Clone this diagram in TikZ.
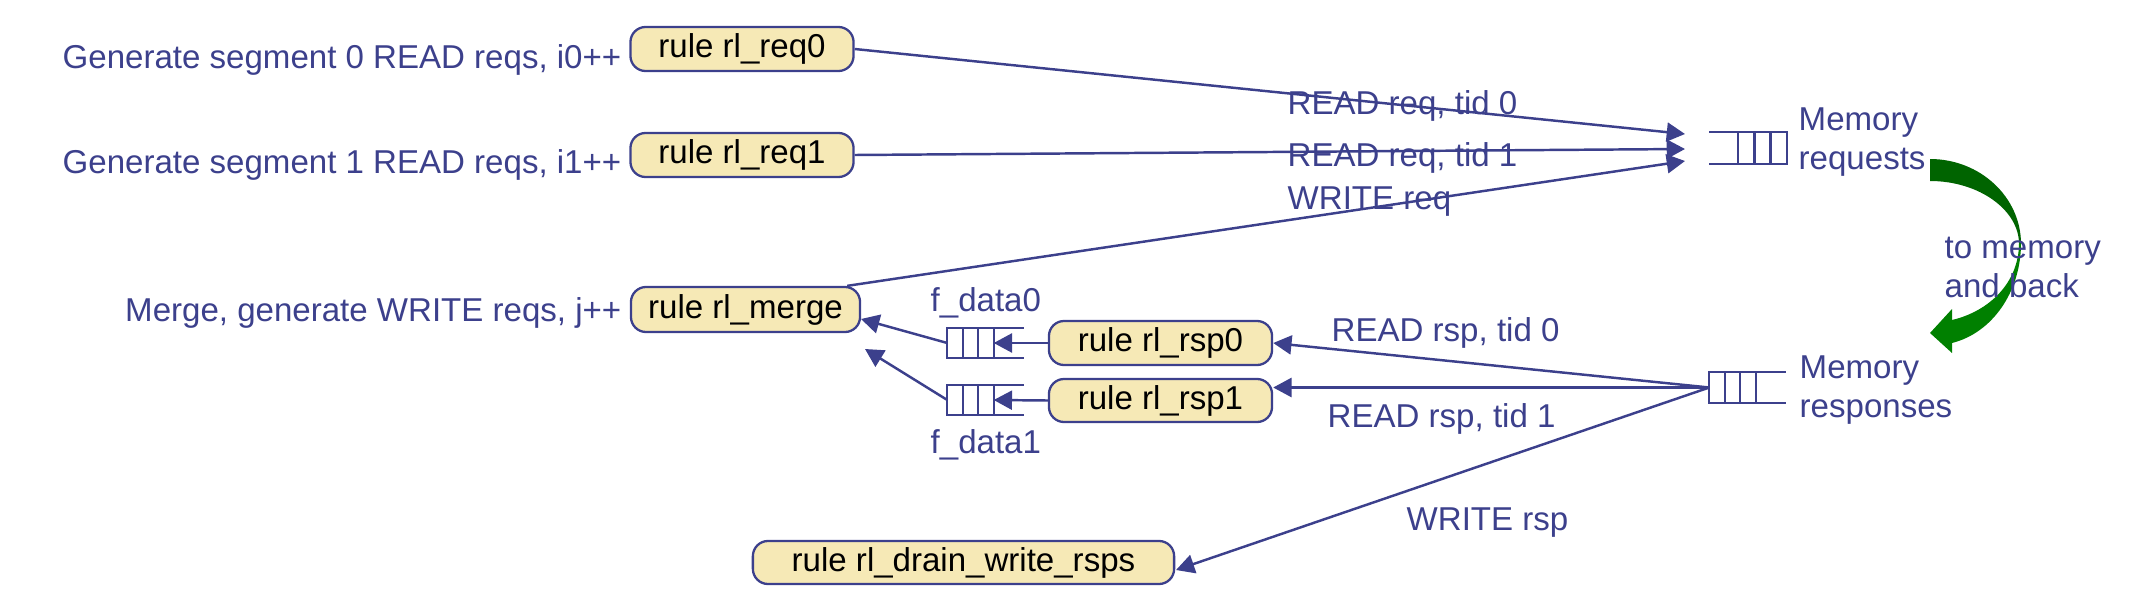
\documentclass[tikz,border=0pt]{standalone}
\usepackage{fontspec}
\setmainfont{Liberation Sans}
\usetikzlibrary{arrows.meta,calc}

\definecolor{linkblue}{RGB}{60,64,140}
\definecolor{rulefill}{RGB}{246,233,182}
\definecolor{darkgreen}{RGB}{0,100,0}
\definecolor{midgreen}{RGB}{0,128,0}
\newcommand{\labelfont}{\fontsize{9.4pt}{11.1pt}\selectfont}

\tikzset{
  rulebox/.style={draw=linkblue, fill=rulefill, line width=0.65pt, rounded corners=4.3pt,
    minimum width=2.23cm, minimum height=0.44cm, inner sep=0pt, text=black, font=\labelfont},
  note/.style={text=linkblue, font=\labelfont, inner sep=0pt},
  fifo/.style={minimum width=0.45cm, minimum height=0.29cm, inner sep=0pt},
  qline/.style={draw=linkblue, line width=0.65pt},
  link/.style={draw=linkblue, line width=0.7pt, -{Triangle[length=5.2pt,width=5.4pt]}},
}

\newcommand{\fifocells}[1]{%
  \draw[qline] (#1.north west) rectangle (#1.south east);
  \foreach \f in {0.333,0.667}
    \draw[qline] ($(#1.north west)!\f!(#1.north east)$) -- ($(#1.south west)!\f!(#1.south east)$);
}

\begin{document}
\begin{tikzpicture}[x=0.01cm,y=-0.01cm]
\useasboundingbox (0,0) rectangle (2136,606);

% Drawing rules
\node[rulebox] (req0) at (742,49) {rule rl\_req0};
\node[rulebox] (req1) at (742,155) {rule rl\_req1};
\node[rulebox, minimum width=2.29cm, minimum height=0.45cm] (merge) at (745.5,309.5) {rule rl\_merge};
\node[rulebox] (rsp0) at (1160.5,343) {rule rl\_rsp0};
\node[rulebox, minimum height=0.43cm] (rsp1) at (1160.5,400.5) {rule rl\_rsp1};
\node[rulebox, minimum width=4.21cm, minimum height=0.43cm] (drain) at (963.5,562.5) {rule rl\_drain\_write\_rsps};

% Marking rule comments
\node[note, anchor=base east] (genzero) at (622,68) {Generate segment 0 READ reqs, i0++};
\node[note, anchor=base east] (genone) at (622,173) {Generate segment 1 READ reqs, i1++};
\node[note, anchor=base east] (genwrite) at (622,321) {Merge, generate WRITE reqs, j++};

% Drawing FIFOs
\node[fifo, minimum width=0.47cm, minimum height=0.30cm] (memreq) at (1762.5,148) {};
\fifocells{memreq}
\draw[qline] (memreq.north west) -- ++(-29,0);
\draw[qline] (memreq.south west) -- ++(-29,0);

\node[fifo] (memrsp) at (1732.5,387.5) {};
\fifocells{memrsp}
\draw[qline] (memrsp.north east) -- ++(30,0);
\draw[qline] (memrsp.south east) -- ++(30,0);

\node[fifo, minimum height=0.28cm] (fdata0) at (970.5,343) {};
\fifocells{fdata0}
\draw[qline] (fdata0.north east) -- ++(30,0);
\draw[qline] (fdata0.south east) -- ++(30,0);

\node[fifo, minimum height=0.28cm] (fdata1) at (970.5,400) {};
\fifocells{fdata1}
\draw[qline] (fdata1.north east) -- ++(30,0);
\draw[qline] (fdata1.south east) -- ++(30,0);

% Marking FIFO names
\node[note, anchor=west, align=left] (memreqlabel) at (1798,142) {Memory\\requests};
\node[note, anchor=west, align=left] (memrsplabel) at (1799,390) {Memory\\responses};
\node[note, anchor=base west] (fdatazero) at (930,311) {f\_data0};
\node[note, anchor=base west] (fdataone) at (930,453) {f\_data1};

% Drawing requests
\coordinate (reqin0) at (1685,134);
\coordinate (reqin1) at (1685,149);
\coordinate (reqin2) at (1685,161);
\coordinate (mergeout) at ($(merge.north east)+(-14,0)$);
\draw[link] (req0.east) -- (reqin0);
\draw[link] (req1.east) -- (reqin1);
\draw[link] (mergeout) -- (reqin2);
\node[note, anchor=base west] (rdreqzero) at (1287,114) {READ req, tid 0};
\node[note, anchor=base west] (rdreqone) at (1287,166) {READ req, tid 1};
\node[note, anchor=base west] (wrreq) at (1287,209) {WRITE req};

% Drawing responses
\coordinate (drainin) at (1176,570);
\draw[link] (memrsp.west) -- (rsp0.east);
\draw[link] (memrsp.west) -- (memrsp.west -| rsp1.east);
\draw[link] (memrsp.west) -- (drainin);
\node[note, anchor=base west] (rdrspzero) at (1331,341) {READ rsp, tid 0};
\node[note, anchor=base west] (rdrspone) at (1327,427) {READ rsp, tid 1};
\node[note, anchor=base west] (wrrsp) at (1406,530) {WRITE rsp};

% Drawing data path into merge
\coordinate (mergein0) at (861,319);
\coordinate (mergein1) at (865,349);
\draw[link] (rsp0.west) -- (fdata0.east);
\draw[link] (rsp1.west) -- (fdata1.east);
\draw[link] (fdata0.west) -- (mergein0);
\draw[link] (fdata1.west) -- (mergein1);

% Drawing round trip arrow
\fill[darkgreen] (1930,159) .. controls (1980,159) and (2021,197) .. (2021,244)
  -- (2019,244) .. controls (2019,210) and (1979,181) .. (1930,181) -- cycle;
\fill[midgreen] (2021,243) .. controls (2021,292) and (1992,333) .. (1952,343)
  -- (1952,353) -- (1930,333) -- (1952,309) -- (1952,320)
  .. controls (1990,311) and (2019,282) .. (2019,243) -- cycle;
\node[note, anchor=west, align=left] (roundtrip) at (1944,267) {to memory\\and back};
\end{tikzpicture}
\end{document}
